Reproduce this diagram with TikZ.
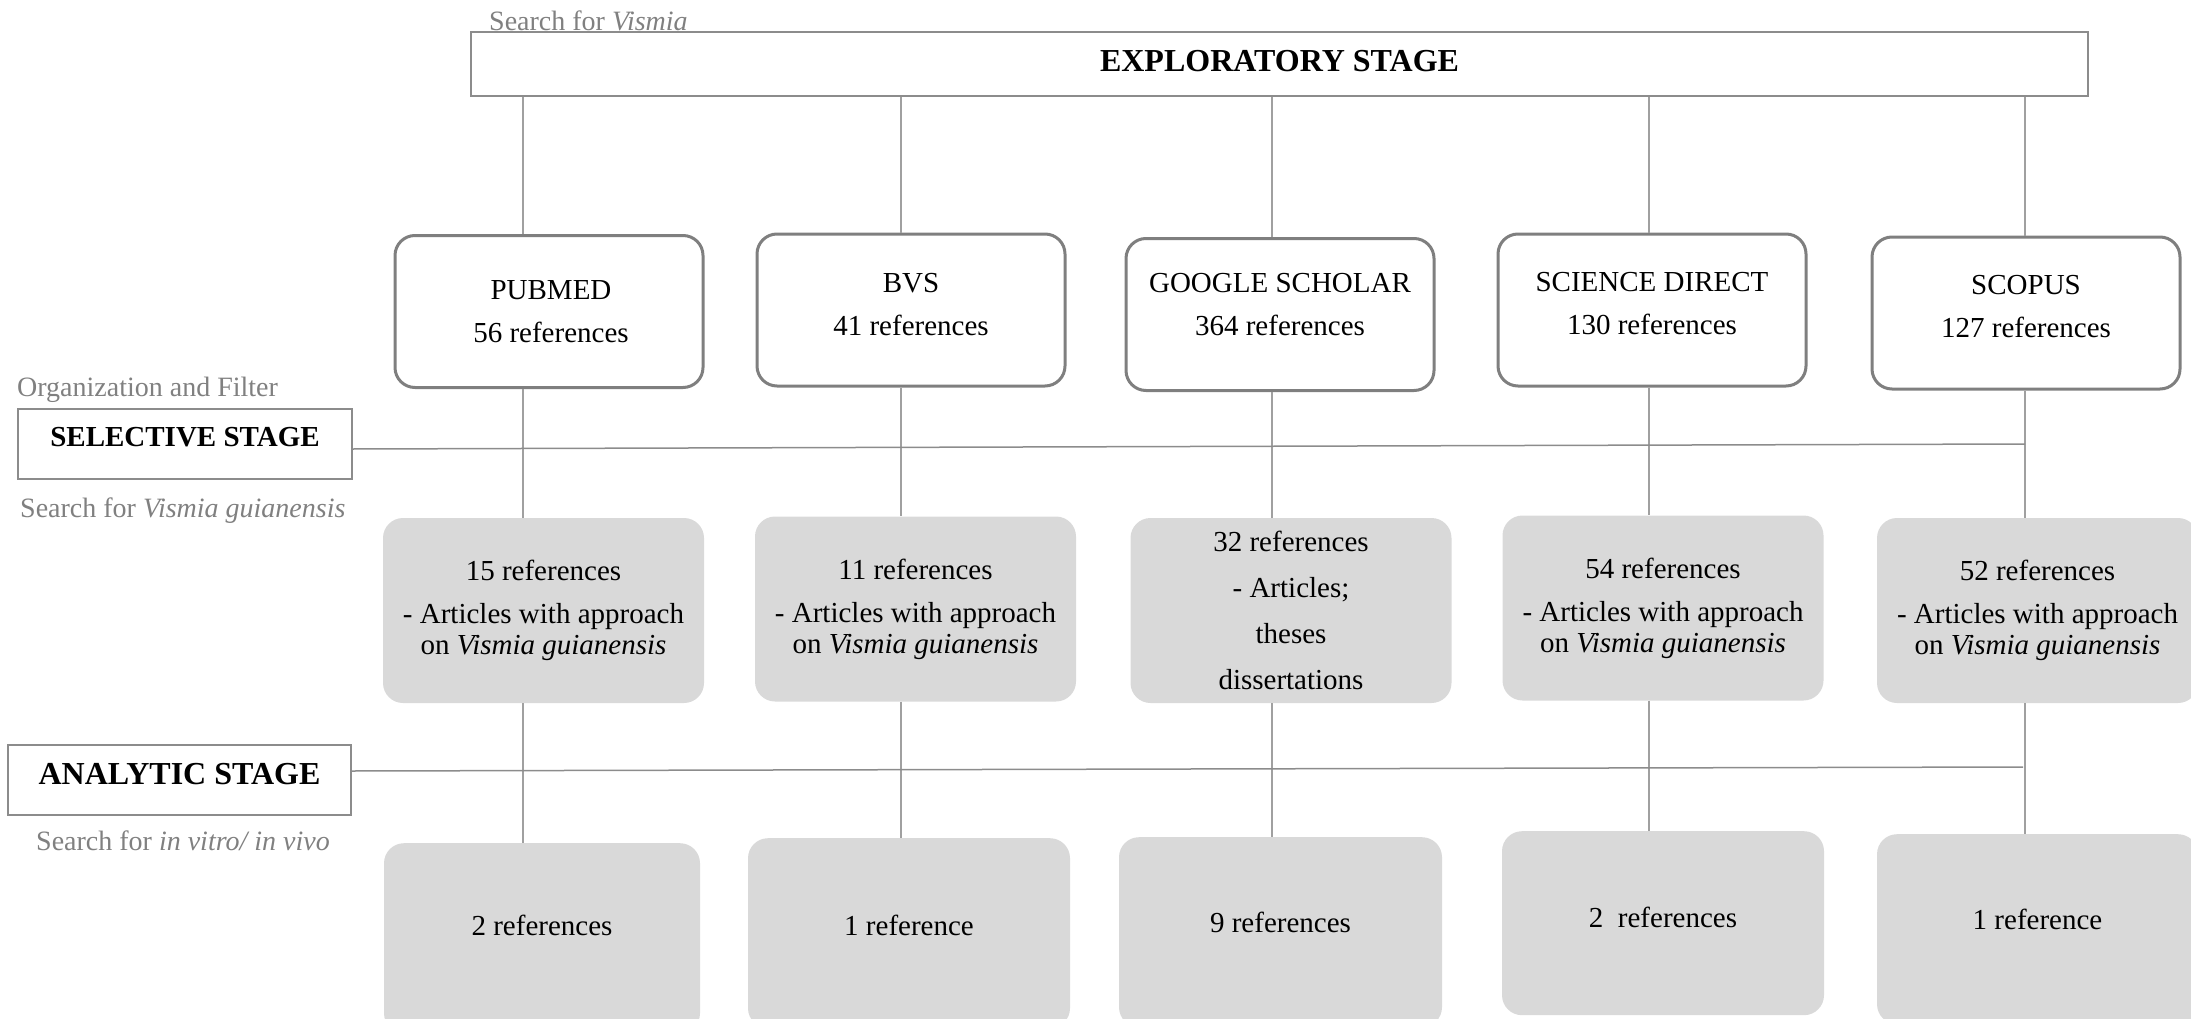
\documentclass[tikz,border=0pt]{standalone}
\usepackage{fontspec}
\setmainfont{Liberation Serif}
\usetikzlibrary{calc}
\definecolor{linec}{HTML}{A0A0A0}
\definecolor{hline}{HTML}{8C8C8C}
\definecolor{bord}{HTML}{7F7F7F}
\definecolor{fillg}{HTML}{D9D9D9}
\definecolor{labg}{HTML}{808080}
\begin{document}
\begin{tikzpicture}[x=1pt,y=-1pt,
  stagebox/.style={draw=hline, line width=1.5pt, minimum height=70pt, inner sep=0pt},
  dbbox/.style={draw=bord, line width=3pt, rounded corners=20pt, fill=white, minimum width=308pt, minimum height=152pt, inner sep=0pt},
  dbtext/.style={align=center, inner sep=0pt, font=\fontsize{29}{43}\selectfont},
  selbox/.style={fill=fillg, rounded corners=20pt, minimum width=321pt, minimum height=185pt, align=center, inner sep=0pt, font=\fontsize{29}{31}\selectfont},
  anbox/.style={fill=fillg, rounded corners=20pt, minimum width=321pt, minimum height=190pt, anchor=north, inner sep=0pt},
  antext/.style={font=\fontsize{29}{31}\selectfont, inner sep=0pt},
  conn/.style={draw=linec, line width=1.5pt},
  hconn/.style={draw=hline, line width=1.5pt},
  greylabel/.style={text=labg, font=\fontsize{28}{30}\selectfont, inner sep=0pt, anchor=base west},
]
\useasboundingbox (0,0) rectangle (2191,1019);

% stage boxes
\node[stagebox, minimum width=1617pt, minimum height=64pt, font=\fontsize{32}{34}\selectfont\bfseries] (ex) at (1279.5,64) {\raisebox{3pt}[\height][\depth]{EXPLORATORY STAGE}};
\node[stagebox, minimum width=334pt, font=\fontsize{29}{32}\selectfont\bfseries] (sel) at (185,444) {\raisebox{7pt}[\height][\depth]{SELECTIVE STAGE}};
\node[stagebox, minimum width=343pt, font=\fontsize{32}{34}\selectfont\bfseries] (an) at (179.5,780) {\raisebox{6pt}[\height][\depth]{ANALYTIC STAGE}};

% grey labels
\node[greylabel] (l1) at (489,31) {Search for \textit{Vismia}};
\node[greylabel] (l2) at (17,396) {Organization and Filter};
\node[greylabel] (l3) at (20,517) {Search for \textit{Vismia guianensis}};
\node[greylabel] (l4) at (36,850) {Search for \textit{in vitro/ in vivo}};

% row 1
\node[dbbox] (p1) at (549,311.5) {};
\node[dbbox] (b1) at (911,310) {};
\node[dbbox] (g1) at (1280,314.5) {};
\node[dbbox] (s1) at (1652,310) {};
\node[dbbox] (c1) at (2026,313) {};
\node[dbtext] (p1t) at (551,312) {PUBMED\\56 references};
\node[dbtext] (b1t) at (911,305) {BVS\\41 references};
\node[dbtext] (g1t) at (1280,305) {GOOGLE SCHOLAR\\364 references};
\node[dbtext] (s1t) at (1652,304) {SCIENCE DIRECT\\130 references};
\node[dbtext] (c1t) at (2026,306.5) {SCOPUS\\127 references};

% row 2
\node[selbox] (p2) at (543.5,610.5) {15 references\\[12pt]- Articles with approach\\on \textit{Vismia guianensis}};
\node[selbox] (b2) at (915.5,609) {11 references\\[12pt]- Articles with approach\\on \textit{Vismia guianensis}};
\node[selbox, font=\fontsize{29}{46}\selectfont] (g2) at (1291,610.5) {32 references\\- Articles;\\theses\\dissertations};
\node[selbox] (s2) at (1663,608) {54 references\\[12pt]- Articles with approach\\on \textit{Vismia guianensis}};
\node[selbox] (c2) at (2037.5,610.5) {52 references\\[12pt]- Articles with approach\\on \textit{Vismia guianensis}};

% row 3
\node[anbox, minimum width=316pt] (p3) at (542,843) {};
\node[anbox, minimum width=322pt] (b3) at (909,838) {};
\node[anbox, minimum width=323pt] (g3) at (1280.5,837) {};
\node[anbox, minimum width=322pt, minimum height=184pt] (s3) at (1663,831) {};
\node[anbox, minimum width=321pt] (c3) at (2037.5,834) {};
\node[antext] (p3t) at (542,925) {2 references};
\node[antext] (b3t) at (909,925) {1 reference};
\node[antext] (g3t) at (1280.5,922) {9 references};
\node[antext] (s3t) at (1663,917) {2~ references};
\node[antext] (c3t) at (2037.5,919) {1 reference};

% column coordinates
\coordinate (k1) at (523,0);
\coordinate (k2) at (901,0);
\coordinate (k3) at (1272,0);
\coordinate (k4) at (1649,0);
\coordinate (k5) at (2025,0);

\foreach \k/\a/\b/\c in {k1/p1/p2/p3, k2/b1/b2/b3, k3/g1/g2/g3, k4/s1/s2/s3, k5/c1/c2/c3}{
  \draw[conn] (ex.south -| \k) -- (\a.north -| \k);
  \draw[conn] (\a.south -| \k) -- (\b.north -| \k);
  \draw[conn] (\b.south -| \k) -- (\c.north -| \k);
}

% horizontal stage lines
\coordinate (selend) at (2025,444);
\coordinate (anend) at (2023,767);
\draw[hconn] ([yshift=-5pt]sel.east) -- (selend);
\draw[hconn] ([yshift=9pt]an.east) -- (anend);
\end{tikzpicture}
\end{document}
